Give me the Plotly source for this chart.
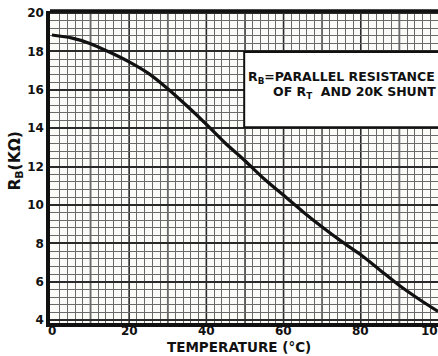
import plotly.graph_objects as go

# Parallel resistance of the thermistor and a 20K shunt versus temperature
temperature_c = [0, 5, 10, 15, 20, 25, 30, 35, 40, 45, 50,
                 55, 60, 65, 70, 75, 80, 85, 90, 95, 100]
r_b_kohm = [18.85, 18.7, 18.4, 17.95, 17.45, 16.85, 16.05, 15.15, 14.2, 13.2, 12.3,
            11.35, 10.5, 9.65, 8.85, 8.1, 7.4, 6.6, 5.8, 5.1, 4.45]

x_ticks = [0, 20, 40, 60, 80, 100]
y_ticks = [4, 6, 8, 10, 12, 14, 16, 18, 20]

FONT = "DejaVu Sans"
INK = "#111111"


def note(x, y, text, xref="paper", yref="paper", size=12, angle=0, bold=True):
    fig.add_annotation(x=x, y=y, xref=xref, yref=yref, text=text, textangle=angle,
                       showarrow=False, xanchor="center", yanchor="middle",
                       font=dict(family=FONT, size=size, color=INK,
                                 weight="bold" if bold else "normal"))


fig = go.Figure()
fig.add_trace(go.Scatter(
    x=temperature_c, y=r_b_kohm, mode="lines",
    line=dict(color=INK, width=3.2, shape="spline", smoothing=0.6),
    hoverinfo="skip", showlegend=False,
))

# note box in the upper right
fig.add_shape(type="rect", xref="x", yref="y", x0=49.8, x1=104, y0=14.05, y1=17.97,
              line=dict(color=INK, width=2), fillcolor="white", layer="between")
note(0.752, 0.787, "R<sub>B</sub>=PARALLEL RESISTANCE", size=12.5)
note(0.786, 0.738, "OF R<sub>T</sub>  AND 20K SHUNT", size=12.5)

# axis titles
note(-0.088, 0.52, "R<sub>B</sub>(KΩ)", size=15.5, angle=-90)
note(0.487, -0.078, "TEMPERATURE (°C)", size=13.5)

# x labels, the last one running off the right edge of the page
for xv in x_ticks:
    note(xv if xv < 100 else 98.8, -0.027, str(xv), xref="x")

fig.update_xaxes(
    range=[-0.5, 100], showticklabels=False,
    showgrid=False,
    minor=dict(dtick=2, tick0=0, showgrid=True, gridcolor="#6a6a6a", gridwidth=1),
    showline=True, linecolor=INK, linewidth=3.5, mirror=False,
    ticks="", ticklen=0, zeroline=False, automargin=False,
)
# heavier rules every 10 degrees
for xv in range(10, 100, 10):
    fig.add_shape(type="line", xref="x", yref="paper", x0=xv, x1=xv, y0=0, y1=1,
                  line=dict(color="#2a2a2a", width=1.6), layer="between")

fig.update_yaxes(
    range=[3.85, 20.1], tickvals=y_ticks, ticktext=[str(v) for v in y_ticks],
    showgrid=True, gridcolor="#2a2a2a", gridwidth=1.6,
    minor=dict(dtick=0.4, tick0=0, showgrid=True, gridcolor="#6a6a6a", gridwidth=1),
    showline=True, linecolor=INK, linewidth=3.5, mirror=False,
    ticks="", ticklen=0, zeroline=False, automargin=False,
    tickfont=dict(family=FONT, size=12, color=INK, weight="bold"),
)

# heavy top edge of the chart frame
fig.add_shape(type="line", xref="paper", yref="paper", x0=0, x1=1, y0=1, y1=1,
              line=dict(color=INK, width=3.5), layer="above")

fig.update_layout(
    width=438, height=356,
    margin=dict(l=50, r=0, t=11, b=33),
    paper_bgcolor="white", plot_bgcolor="#fbfbf8",
    showlegend=False,
)

fig.write_html("out.html")
